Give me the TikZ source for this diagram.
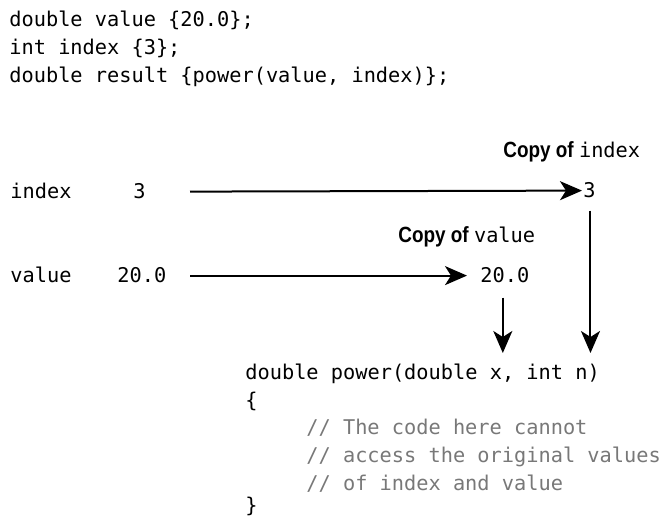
\documentclass[tikz,border=0pt]{standalone}
\usepackage{fontspec}
\setmonofont{DejaVu Sans Mono}
\newfontfamily\copyfont{Liberation Sans}[FakeStretch=0.86]
\usetikzlibrary{arrows.meta}

\definecolor{commentgray}{RGB}{120,120,120}

\tikzset{every picture/.style={line width=0.75pt}}
\tikzset{
  code/.style={anchor=base west, inner sep=0pt, font=\ttfamily\fontsize{20.3}{28}\selectfont},
  comment/.style={code, text=commentgray},
  passarrow/.style={line width=2pt, -{Stealth[length=22pt,width=19pt,inset=6pt]}}
}
\newcommand{\copyof}{{\copyfont\bfseries\fontsize{22}{26}\selectfont Copy of }}

\begin{document}
\begin{tikzpicture}[x=1pt,y=1pt,yscale=-1,xscale=1]
	\useasboundingbox (0,0) rectangle (670,518);

	% Text Node
	\node [code] (decl1) at (9,27) {double value \{20.0\};};
	% Text Node
	\node [code] (decl2) at (9,55) {int index \{3\};};
	% Text Node
	\node [code] (decl3) at (9,83) {double result \{power(value, index)\};};

	% Text Node
	\node [code] (copyidxlbl) at (503,158) {\copyof index};
	% Text Node
	\node [code] (nameidx) at (10,199) {index};
	% Text Node
	\node [code] (srcidx) at (133,199) {3};
	% Text Node
	\node [code] (copyidx) at (583,198) {3};

	% Text Node
	\node [code] (copyvallbl) at (398,243) {\copyof value};
	% Text Node
	\node [code] (nameval) at (10,283) {value};
	% Text Node
	\node [code] (srcval) at (117,283) {20.0};
	% Text Node
	\node [code] (copyval) at (480,283) {20.0};

	% Text Node
	\node [code] (funchead) at (245,380) {double power(double x, int n)};
	% Text Node
	\node [code] (funcopen) at (245,408) {\{};
	% Text Node
	\node [comment] (note1) at (306,435) {// The code here cannot};
	% Text Node
	\node [comment] (note2) at (306,463) {// access the original values};
	% Text Node
	\node [comment] (note3) at (306,491) {// of index and value};
	% Text Node
	\node [code] (funcclose) at (245,513) {\}};

	%Coordinates where the arrows start and stop
	\coordinate (leftstart) at (190,0);
	\coordinate (argrow) at (0,353);

	%Straight Lines
	\draw [passarrow] (srcidx.east -| leftstart) -- ([xshift=-1pt]copyidx.west);
	\draw [passarrow] (srcval.east -| leftstart) -- ([xshift=-13pt]copyval.west);
	%Straight Lines
	\draw [passarrow, shorten <=12pt] ([xshift=1pt]copyidx.south) -- ([xshift=1pt]copyidx.south |- argrow);
	\draw [passarrow, shorten <=14pt] ([xshift=-2pt]copyval.south) -- ([xshift=-2pt]copyval.south |- argrow);

\end{tikzpicture}
\end{document}
